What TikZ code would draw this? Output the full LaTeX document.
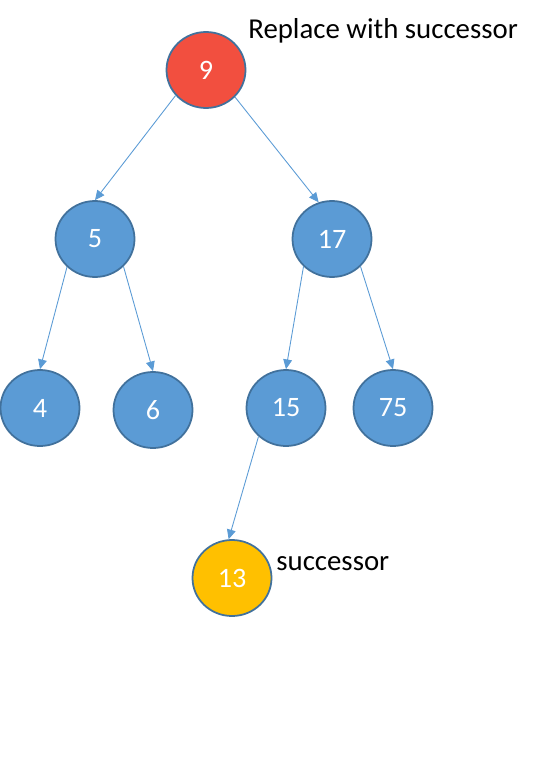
\documentclass[tikz,border=0pt]{standalone}
\usepackage{fontspec}
\setmainfont{Carlito}
\usetikzlibrary{arrows.meta,shapes.geometric}

\definecolor{keyblue}{HTML}{5B9BD5}
\definecolor{keyrim}{HTML}{41719C}
\definecolor{keyred}{HTML}{F24F3F}
\definecolor{keygold}{HTML}{FFC000}

\begin{document}
\begin{tikzpicture}[
    key/.style={ellipse,draw=keyrim,line width=1pt,fill=keyblue,text=white,
        minimum width=1.58cm,minimum height=1.52cm,inner sep=0pt,font=\fontsize{16}{19}\selectfont},
    link/.style={draw=keyblue,line width=0.5pt,-{Triangle[length=5.5pt,width=5pt]}},
    note/.style={inner sep=0pt,anchor=base west,font=\fontsize{16.4}{19}\selectfont}
]
    % page frame
    \useasboundingbox (0,0) rectangle (11.16,-15.68);
    % root, to be replaced
    \node[key,fill=keyred] (n9) at (4.12,-1.40) {9};
    % second level
    \node[key] (n5) at (1.90,-4.78) {5};
    \node[key] (n17) at (6.64,-4.78) {17};
    % third level
    \node[key] (n4) at (0.80,-8.16) {4};
    \node[key] (n6) at (3.06,-8.20) {6};
    \node[key] (n15) at (5.72,-8.16) {15};
    \node[key] (n75) at (7.86,-8.16) {75};
    % successor, leftmost under 17
    \node[key,fill=keygold] (n13) at (4.64,-11.56) {13};

    % labels
    \node[note] (lroot) at (4.96,-0.78) {Replace with successor};
    \node[note] (lsucc) at (5.52,-11.40) {successor};

    % edges
    \draw[link] (n9.220) -- (n5.north);
    \draw[link] (n9.317) -- (n17.110);
    \draw[link] (n5.225) -- (n4.north);
    \draw[link] (n5.316) -- (n6.north);
    \draw[link] (n17.224) -- (n15.north);
    \draw[link] (n17.316) -- (n75.north);
    \draw[link] (n15.226) -- (n13.95);
\end{tikzpicture}
\end{document}
